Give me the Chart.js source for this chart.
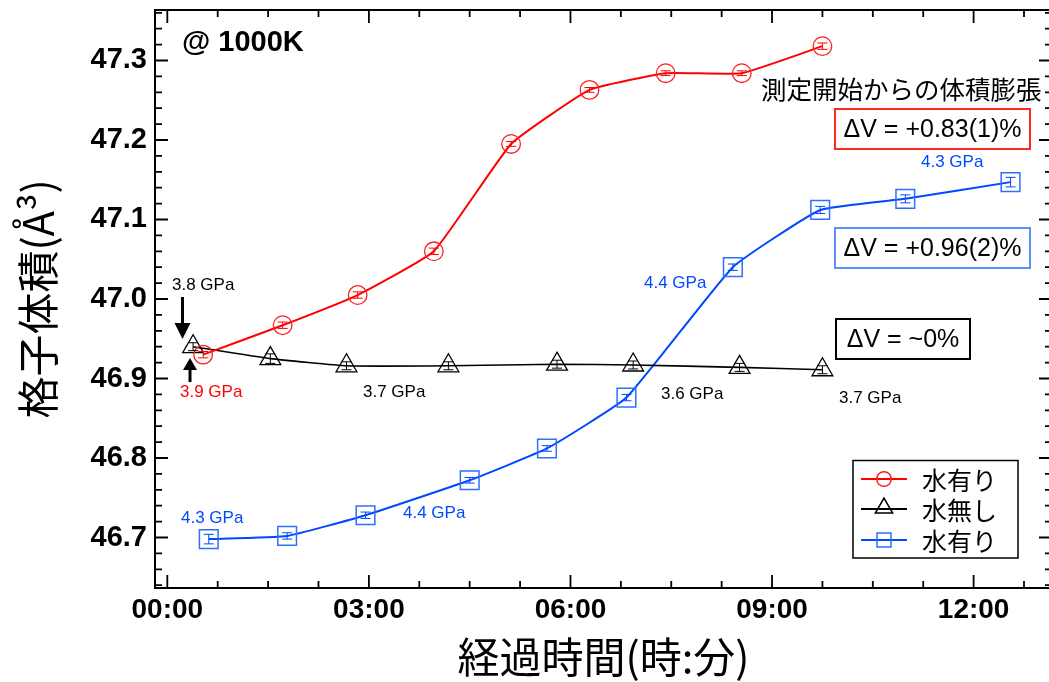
<!DOCTYPE html>
<html>
<head>
<meta charset="utf-8">
<script src="https://cdn.jsdelivr.net/npm/chart.js@4.4.1/dist/chart.umd.min.js"></script>
<style>
html, body { margin: 0; padding: 0; background: #fff; overflow: hidden; }
canvas { display: block; }
</style>
</head>
<body>
<canvas id="chart" width="1053" height="682"></canvas>
<script>
// elapsed time in minutes, lattice volume in A^3, error bars in A^3
var redTime = [32, 103, 170, 238, 307, 377, 445, 513, 585];
var redVol = [46.930, 46.967, 47.005, 47.060, 47.195, 47.263, 47.284, 47.284, 47.318];
var redErr = [0.004, 0.004, 0.004, 0.004, 0.003, 0.003, 0.003, 0.003, 0.004];

var blackTime = [23, 92, 160, 251, 348, 416, 511, 585];
var blackVol = [46.940, 46.925, 46.916, 46.916, 46.918, 46.917, 46.914, 46.911];
var blackErr = [0.005, 0.006, 0.005, 0.005, 0.005, 0.005, 0.005, 0.005];

var blueTime = [37, 107, 177, 270, 339, 410, 505, 583, 659, 753];
var blueVol = [46.698, 46.702, 46.728, 46.772, 46.812, 46.876, 47.040, 47.112, 47.126, 47.147];
var blueErr = [0.006, 0.004, 0.004, 0.0035, 0.0035, 0.004, 0.004, 0.0045, 0.005, 0.006];

var seriesNames = ['水有り', '水無し', '水有り'];
var xTicks = [0, 180, 360, 540, 720];
var yTicks = [46.7, 46.8, 46.9, 47.0, 47.1, 47.2, 47.3];

var LATIN = '"Liberation Sans", Arial, Helvetica, sans-serif';
var CJK = '"Noto Sans CJK JP", "Noto Sans", sans-serif';
var RED = '#ff0000';
var BLUE = 'rgb(0,72,255)';
var BLUE2 = 'rgb(45,112,255)';

function pts(t, v) {
  return t.map(function (x, i) { return { x: x, y: v[i] }; });
}

function hhmm(m) {
  var h = Math.floor(m / 60), mm = m % 60;
  return (h < 10 ? '0' : '') + h + ':' + (mm < 10 ? '0' : '') + mm;
}

// pressure labels and other notes (pixel positions)
var notes = [
  { text: '3.8 GPa', x: 172, y: 285, color: '#000' },
  { text: '3.9 GPa', x: 180, y: 392, color: RED },
  { text: '3.7 GPa', x: 363, y: 392, color: '#000' },
  { text: '3.6 GPa', x: 661, y: 394, color: '#000' },
  { text: '3.7 GPa', x: 839, y: 398, color: '#000' },
  { text: '4.4 GPa', x: 644, y: 283, color: BLUE },
  { text: '4.3 GPa', x: 921, y: 162, color: BLUE },
  { text: '4.3 GPa', x: 181, y: 518, color: BLUE },
  { text: '4.4 GPa', x: 403, y: 513, color: BLUE }
];
var boxes = [
  { text: 'ΔV = +0.83(1)%', x: 835, y: 109, w: 195, h: 40, color: 'rgb(255,40,30)' },
  { text: 'ΔV = +0.96(2)%', x: 835, y: 228, w: 195, h: 40, color: 'rgb(90,145,255)' },
  { text: 'ΔV = ~0%', x: 836, y: 319, w: 134, h: 40, color: '#000' }
];

var errorBars = {
  id: 'errorBars',
  afterDatasetsDraw: function (chart) {
    var c = chart.ctx, ys = chart.scales.y;
    c.save();
    chart.data.datasets.forEach(function (ds, i) {
      var meta = chart.getDatasetMeta(i);
      c.strokeStyle = ds.errColor;
      c.lineWidth = 1;
      c.beginPath();
      meta.data.forEach(function (p, j) {
        var v = ds.data[j].y, e = ds.errors[j];
        var y1 = ys.getPixelForValue(v - e), y2 = ys.getPixelForValue(v + e);
        c.moveTo(p.x, y1); c.lineTo(p.x, y2);
        c.moveTo(p.x - 5, y1); c.lineTo(p.x + 5, y1);
        c.moveTo(p.x - 5, y2); c.lineTo(p.x + 5, y2);
      });
      c.stroke();
    });
    c.restore();
  }
};

function marker(c, style, x, y, r) {
  c.beginPath();
  if (style === 'circle') {
    c.arc(x, y, r, 0, Math.PI * 2);
  } else if (style === 'triangle') {
    c.moveTo(x, y - r);
    c.lineTo(x + r * 0.866, y + r / 2);
    c.lineTo(x - r * 0.866, y + r / 2);
    c.closePath();
  } else {
    c.rect(x - r, y - r, 2 * r, 2 * r);
  }
  c.stroke();
}

var frame = {
  id: 'frame',
  afterDraw: function (chart) {
    var c = chart.ctx, a = chart.chartArea, xs = chart.scales.x, ys = chart.scales.y;
    c.save();
    c.strokeStyle = '#000';
    c.lineWidth = 2;
    c.strokeRect(a.left, a.top, a.right - a.left, a.bottom - a.top);
    c.lineWidth = 1.8;
    c.beginPath();
    for (var m = 0; m <= xs.max; m += 45) {
      var px = xs.getPixelForValue(m), len = m % 180 === 0 ? 13 : 7;
      c.moveTo(px, a.bottom); c.lineTo(px, a.bottom - len);
      c.moveTo(px, a.top); c.lineTo(px, a.top + len);
    }
    for (var k = Math.ceil(ys.min * 50); k <= ys.max * 50; k++) {
      var py = ys.getPixelForValue(k / 50), l2 = k % 5 === 0 ? 13 : 7;
      c.moveTo(a.left, py); c.lineTo(a.left + l2, py);
      c.moveTo(a.right, py); c.lineTo(a.right - l2, py);
    }
    c.stroke();

    // temperature
    c.fillStyle = '#000';
    c.font = 'bold 29px ' + LATIN;
    c.textBaseline = 'middle';
    c.textAlign = 'left';
    c.fillText('@ 1000K', 182, 43);

    // pressure labels
    c.font = '17px ' + LATIN;
    notes.forEach(function (n) {
      c.fillStyle = n.color;
      c.fillText(n.text, n.x, n.y);
    });

    // arrows at the start point
    c.fillStyle = '#000';
    c.fillRect(181, 297, 3, 28);
    c.beginPath();
    c.moveTo(174.5, 323); c.lineTo(190.5, 323); c.lineTo(182.5, 339); c.closePath();
    c.fill();
    c.fillRect(188.5, 368, 3, 14);
    c.beginPath();
    c.moveTo(183, 370); c.lineTo(197, 370); c.lineTo(190, 358); c.closePath();
    c.fill();

    // expansion notes
    c.font = '25.5px ' + CJK;
    c.fillStyle = '#000';
    c.fillText('測定開始からの体積膨張', 761, 89);
    c.font = '25px ' + LATIN;
    c.textAlign = 'center';
    boxes.forEach(function (b) {
      c.strokeStyle = b.color;
      c.lineWidth = 2;
      c.strokeRect(b.x, b.y, b.w, b.h);
      c.fillStyle = '#000';
      c.fillText(b.text, b.x + b.w / 2, b.y + b.h / 2 + 1);
    });

    // legend
    c.strokeStyle = '#000';
    c.lineWidth = 1.5;
    c.strokeRect(853, 460.5, 165, 97.5);
    c.textAlign = 'left';
    c.font = '25px ' + CJK;
    var rows = [479, 509, 540];
    chart.data.datasets.forEach(function (ds, i) {
      var y = rows[i];
      c.strokeStyle = ds.borderColor;
      c.lineWidth = 2;
      c.beginPath(); c.moveTo(861, y); c.lineTo(907, y); c.stroke();
      c.strokeStyle = ds.pointBorderColor;
      c.lineWidth = 1.5;
      if (i === 0) marker(c, 'circle', 884, y, 7.3);
      else if (i === 1) marker(c, 'triangle', 884, y - 1, 10);
      else marker(c, 'rect', 884, y, 7);
      c.fillStyle = '#000';
      c.fillText(ds.label, 922, y + 1);
    });
    c.restore();
  }
};

function noPad(s) {
  s.paddingTop = 0; s.paddingBottom = 0; s.paddingLeft = 0; s.paddingRight = 0;
}

var ctx = document.getElementById('chart').getContext('2d');
var chart = new Chart(ctx, {
  type: 'line',
  data: {
    datasets: [
      {
        label: seriesNames[0], data: pts(redTime, redVol), errors: redErr, errColor: RED,
        borderColor: RED, borderWidth: 2, tension: 0.12,
        pointStyle: 'circle', pointRadius: 9.3, pointBorderWidth: 1.3,
        pointBorderColor: 'rgb(255,30,30)', pointBackgroundColor: 'rgba(0,0,0,0)'
      },
      {
        label: seriesNames[1], data: pts(blackTime, blackVol), errors: blackErr, errColor: '#000',
        borderColor: '#000', borderWidth: 1.6, tension: 0.12,
        pointStyle: 'triangle', pointRadius: 12, pointBorderWidth: 1.3,
        pointBorderColor: '#000', pointBackgroundColor: 'rgba(0,0,0,0)'
      },
      {
        label: seriesNames[2], data: pts(blueTime, blueVol), errors: blueErr, errColor: BLUE,
        borderColor: BLUE, borderWidth: 2, tension: 0.12,
        pointStyle: 'rect', pointRadius: 13.2, pointBorderWidth: 1.5,
        pointBorderColor: BLUE2, pointBackgroundColor: 'rgba(0,0,0,0)'
      }
    ]
  },
  options: {
    responsive: false,
    animation: false,
    events: [],
    layout: { autoPadding: false, padding: { left: 0, top: 10, right: 1, bottom: 0 } },
    plugins: { legend: { display: false }, tooltip: { enabled: false } },
    scales: {
      x: {
        type: 'linear', position: 'bottom', min: -11, max: 790,
        grid: { display: false, drawTicks: false },
        border: { display: false },
        afterBuildTicks: function (s) { s.ticks = xTicks.map(function (v) { return { value: v }; }); },
        afterFit: function (s) { s.height = 94; noPad(s); },
        ticks: {
          autoSkip: false, maxRotation: 0, padding: 5, color: '#000',
          font: { family: LATIN, size: 28, weight: 'bold' },
          callback: function (v) { return hhmm(v); }
        },
        title: {
          display: true, text: '経過時間(時:分)', color: '#000',
          font: { family: CJK, size: 42 }, padding: { top: 2, bottom: 0 }
        }
      },
      y: {
        type: 'linear', position: 'left', min: 46.6365, max: 47.3635,
        grid: { display: false, drawTicks: false },
        border: { display: false },
        afterBuildTicks: function (s) { s.ticks = yTicks.map(function (v) { return { value: v }; }); },
        afterFit: function (s) { s.width = 155; noPad(s); },
        ticks: {
          padding: 8, color: '#000',
          font: { family: LATIN, size: 29, weight: 'bold' },
          callback: function (v) { return v.toFixed(1); }
        },
        title: {
          display: true, text: '格子体積(Å³)', color: '#000',
          font: { family: CJK, size: 42 }, padding: { top: 13, bottom: 0 }
        }
      }
    }
  },
  plugins: [errorBars, frame]
});
</script>
</body>
</html>
